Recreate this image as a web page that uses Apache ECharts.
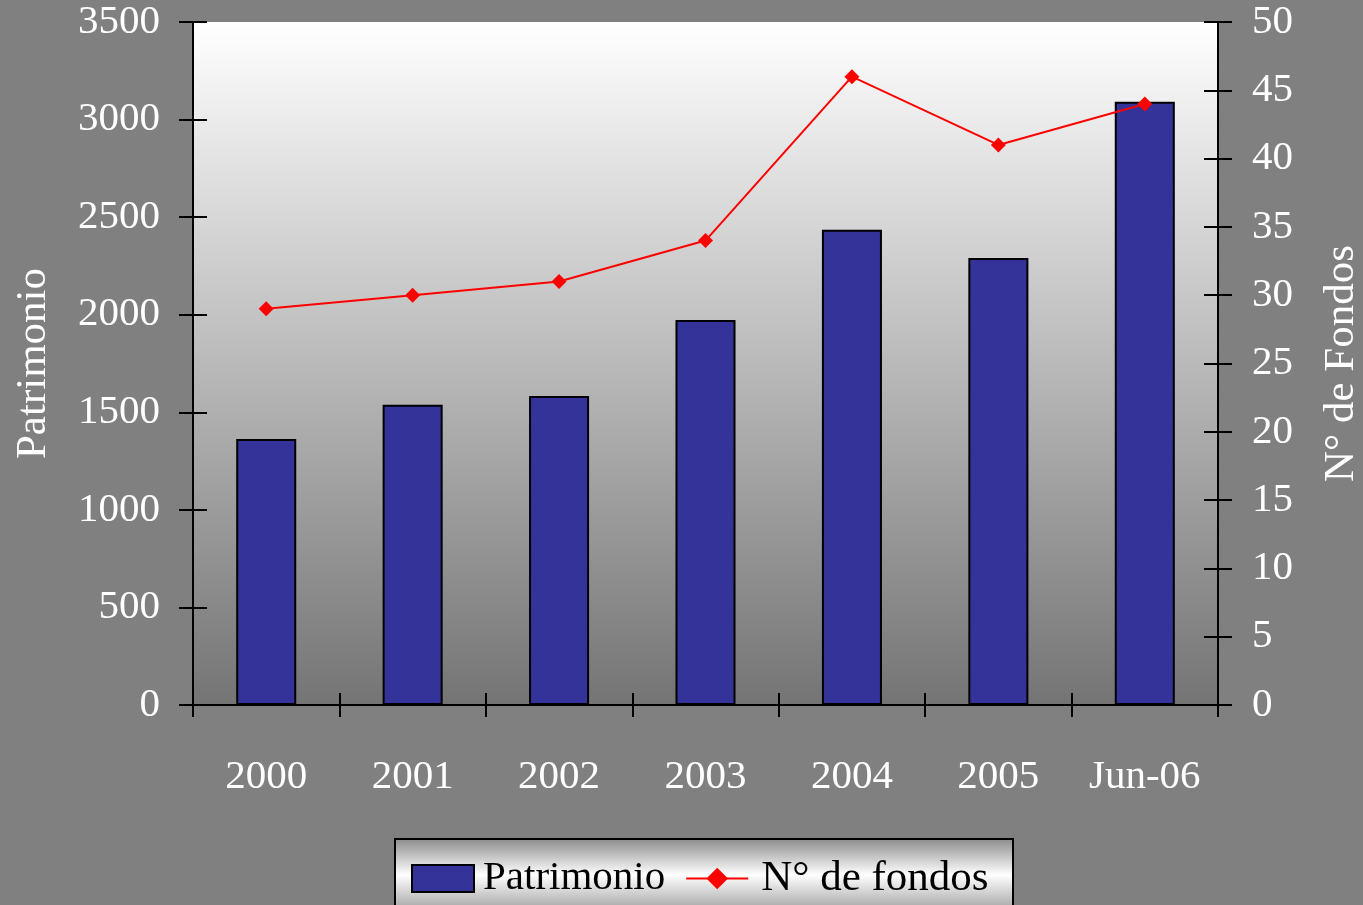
<!DOCTYPE html>
<html>
<head>
<meta charset="utf-8">
<script src="https://cdn.jsdelivr.net/npm/echarts@6/dist/echarts.min.js"></script>
<style>
  html, body { margin: 0; padding: 0; background: #808080; }
  #chart { width: 1363px; height: 905px; }
</style>
</head>
<body>
<div id="chart"></div>
<script>
const categories = ["2000", "2001", "2002", "2003", "2004", "2005", "Jun-06"];
const patrimonio = [1363, 1538, 1584, 1973, 2435, 2291, 3091];
const fondos = [29, 30, 31, 34, 46, 41, 44];

const font = "Liberation Serif";
const chart = echarts.init(document.getElementById("chart"));

const tickLine = { color: "#000", width: 2 };
const plain = function (v) { return String(v); };

const option = {
  animation: false,
  backgroundColor: "#808080",
  textStyle: { fontFamily: font },
  grid: {
    left: 193,
    right: 145,
    top: 22,
    bottom: 200,
    outerBoundsMode: "none",
    containLabel: false,
    show: true,
    borderWidth: 0,
    backgroundColor: new echarts.graphic.LinearGradient(0, 0, 0, 1, [
      { offset: 0, color: "#ffffff" },
      { offset: 1, color: "#747474" },
    ]),
  },
  graphic: [
    {
      type: "rect",
      left: 394,
      top: 838,
      shape: { width: 618, height: 80 },
      style: {
        fill: new echarts.graphic.LinearGradient(0, 0, 0, 1, [
          { offset: 0, color: "#8a8a8a" },
          { offset: 0.45, color: "#ffffff" },
          { offset: 1, color: "#8a8a8a" },
        ]),
        stroke: "#000",
        lineWidth: 2,
      },
      z: 0,
    },
  ],
  legend: {
    left: 406,
    top: 852,
    itemGap: 20,
    itemWidth: 62,
    itemHeight: 27,
    textStyle: { color: "#000", fontSize: 41, fontFamily: font, padding: [0, 0, 0, 4] },
    data: [
      { name: "Patrimonio", icon: "rect" },
      { name: "N° de fondos", textStyle: { fontSize: 43, padding: [0, 0, 0, 8] } },
    ],
  },
  xAxis: [
    {
      type: "category",
      data: categories,
      axisLine: { lineStyle: tickLine },
      axisTick: { show: true, length: 12, lineStyle: tickLine },
      axisLabel: { color: "#fff", fontSize: 41, fontFamily: font, margin: 52 },
    },
    {
      type: "category",
      data: categories,
      position: "bottom",
      axisLine: { lineStyle: tickLine },
      axisTick: { show: true, inside: true, length: 12, lineStyle: tickLine },
      axisLabel: { show: false },
    },
  ],
  yAxis: [
    {
      type: "value",
      min: 0,
      max: 3500,
      interval: 500,
      position: "left",
      name: "Patrimonio",
      nameLocation: "middle",
      nameRotate: 90,
      nameGap: 138,
      nameTextStyle: { color: "#fff", fontSize: 43, fontFamily: font },
      axisLine: { show: true, lineStyle: tickLine },
      axisTick: { show: true, length: 14, lineStyle: tickLine },
      axisLabel: { color: "#fff", fontSize: 41, fontFamily: font, margin: 33, formatter: plain },
      splitLine: { show: false },
    },
    {
      type: "value",
      min: 0,
      max: 3500,
      interval: 500,
      position: "left",
      axisLine: { show: true, lineStyle: tickLine },
      axisTick: { show: true, inside: true, length: 14, lineStyle: tickLine },
      axisLabel: { show: false },
      splitLine: { show: false },
    },
    {
      type: "value",
      min: 0,
      max: 50,
      interval: 5,
      position: "right",
      name: "N° de Fondos",
      nameLocation: "middle",
      nameRotate: 90,
      nameGap: 102,
      nameTextStyle: { color: "#fff", fontSize: 43, fontFamily: font },
      axisLine: { show: true, lineStyle: tickLine },
      axisTick: { show: true, length: 14, lineStyle: tickLine },
      axisLabel: { color: "#fff", fontSize: 41, fontFamily: font, margin: 34, formatter: plain },
      splitLine: { show: false },
    },
    {
      type: "value",
      min: 0,
      max: 50,
      interval: 5,
      position: "right",
      axisLine: { show: true, lineStyle: tickLine },
      axisTick: { show: true, inside: true, length: 14, lineStyle: tickLine },
      axisLabel: { show: false },
      splitLine: { show: false },
    },
  ],
  series: [
    {
      name: "Patrimonio",
      type: "bar",
      yAxisIndex: 0,
      barWidth: "41%",
      data: patrimonio,
      itemStyle: { color: "#333399", borderColor: "#000", borderWidth: 2 },
    },
    {
      name: "N° de fondos",
      type: "line",
      yAxisIndex: 2,
      data: fondos,
      symbol: "diamond",
      symbolSize: 15,
      lineStyle: { color: "#ff0000", width: 2 },
      itemStyle: { color: "#ff0000" },
    },
  ],
};
chart.setOption(option);
</script>
</body>
</html>
